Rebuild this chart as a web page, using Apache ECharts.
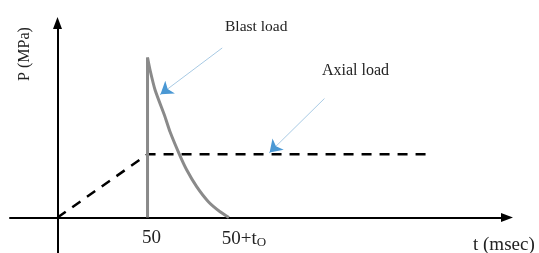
<!DOCTYPE html>
<html>
<head>
<meta charset="UTF-8">
<title>Blast and axial load</title>
<script src="https://cdn.jsdelivr.net/npm/echarts@6/dist/echarts.min.js"></script>
<style>
  html, body { margin: 0; padding: 0; background: #fff; }
  #main { width: 539px; height: 253px; }
</style>
</head>
<body>
<div id="main"></div>
<script>
// time values (msec) and pressures (arbitrary P units, peak = 100)
var blastRise = [[50, 0], [50, 100]];
var blastDecay = [[50, 100], [51.4, 92.2], [54.2, 79.7], [59.7, 63], [62.5, 53.6],
                  [67.7, 39.5], [71.8, 29.7], [77.3, 19.3], [83.8, 9.9], [90.3, 3.6], [95.2, 0]];
var axialLoad = [[0, 0], [50, 39.5], [206.6, 39.5]];
var tickValues = [50, 95.2];
var tickLabels = ['50', '50+t'];
// annotation arrows: [from, to]
var blastArrow = [[91.5, 106], [57.2, 77]];
var axialArrow = [[148.3, 74.4], [117.8, 40.6]];

var serif = '"Liberation Serif", "DejaVu Serif", serif';
var chart = echarts.init(document.getElementById('main'));

function arrowHead(a) {
    // short stub at the tip so the head can be drawn darker than the shaft
    var f = a[0], t = a[1];
    return [[t[0] - (t[0] - f[0]) * 0.04, t[1] - (t[1] - f[1]) * 0.04], t];
}

var axisLine = {
    onZero: true,
    symbol: ['none', 'triangle'],
    symbolSize: [9, 12],
    lineStyle: { color: '#000', width: 2 }
};

var option = {
    animation: false,
    grid: { left: 10, right: 32, top: 23, bottom: 0, containLabel: false, outerBoundsMode: 'none' },
    xAxis: [{
        type: 'value',
        min: -26.4,
        max: 249.7,
        splitLine: { show: false },
        axisTick: { show: false },
        axisLabel: { show: false },
        axisLine: axisLine
    }, {
        // label-only axis sitting on the P = 0 line
        type: 'value',
        position: 'bottom',
        offset: -35.5,
        min: -26.4,
        max: 249.7,
        splitLine: { show: false },
        axisTick: { show: false },
        axisLine: { show: false },
        axisLabel: {
            customValues: tickValues,
            margin: 11,
            color: '#222',
            fontFamily: serif,
            fontSize: 19,
            formatter: function (v) {
                var i = tickValues.indexOf(v);
                if (i === 1) return '{b|' + tickLabels[i] + '}{s|O}';
                return '{a|' + tickLabels[i] + '}';
            },
            rich: {
                a: { fontFamily: serif, fontSize: 19, color: '#222', padding: [0, 0, 0, 8] },
                b: { fontFamily: serif, fontSize: 19, color: '#222', padding: [0, 0, 0, 30] },
                s: { fontFamily: serif, fontSize: 13, color: '#222', padding: [8, 0, 0, 0] }
            }
        }
    }],
    yAxis: {
        type: 'value',
        min: -22.2,
        max: 121.6,
        splitLine: { show: false },
        axisTick: { show: false },
        axisLabel: { show: false },
        axisLine: axisLine
    },
    graphic: [
        { type: 'text', left: 225, top: 19, style: { text: 'Blast load', font: '15.5px ' + serif, fill: '#222' } },
        { type: 'text', left: 322, top: 63, style: { text: 'Axial load', font: '16px ' + serif, fill: '#222' } },
        { type: 'text', left: 473, top: 236, style: { text: 't (msec)', font: '19px ' + serif, fill: '#222' } },
        { type: 'text', x: 25, y: 54, rotation: Math.PI / 2,
          style: { text: 'P (MPa)', font: '16px ' + serif, fill: '#222', align: 'center', verticalAlign: 'middle' } }
    ],
    series: [
        {
            type: 'line', data: axialLoad, symbol: 'none',
            lineStyle: { color: '#000', width: 2.5, type: [10, 8] }
        },
        {
            type: 'line', data: blastRise, symbol: 'none',
            lineStyle: { color: '#8a8a8a', width: 3 }
        },
        {
            type: 'line', data: blastDecay, symbol: 'none', smooth: 0.2,
            lineStyle: { color: '#8a8a8a', width: 3 }
        },
        {
            type: 'lines', coordinateSystem: 'cartesian2d', z: 5,
            lineStyle: { color: '#a8cae4', width: 1, opacity: 1 },
            data: [{ coords: blastArrow }, { coords: axialArrow }]
        },
        {
            type: 'lines', coordinateSystem: 'cartesian2d', z: 6,
            symbol: ['none', 'arrow'], symbolSize: [9, 12],
            lineStyle: { color: '#4a98d4', width: 1, opacity: 1 },
            data: [{ coords: arrowHead(blastArrow) }, { coords: arrowHead(axialArrow) }]
        }
    ]
};

chart.setOption(option);
</script>
</body>
</html>
